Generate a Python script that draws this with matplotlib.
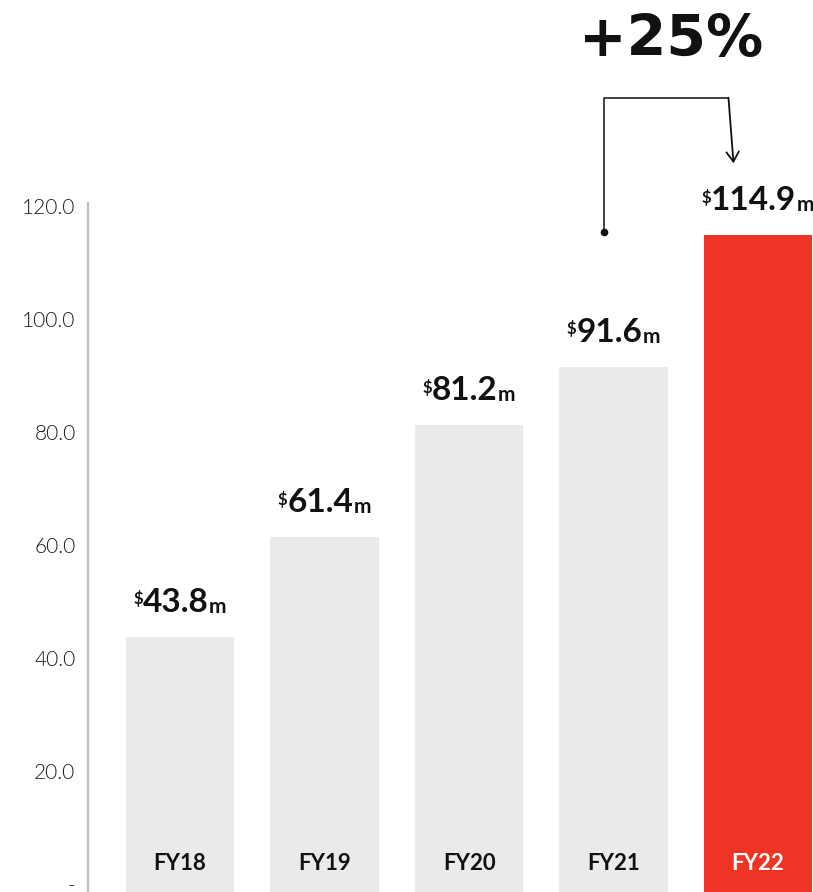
import matplotlib.pyplot as plt

# data
years = ["FY18", "FY19", "FY20", "FY21", "FY22"]
revenue = [43.8, 61.4, 81.2, 91.6, 114.9]
yticks = [0, 20, 40, 60, 80, 100, 120]
growth_label = "+25%"

grey = "#EAEAEA"
red = "#EE3424"
colors = [grey] * (len(years) - 1) + [red]

plt.rcParams["font.family"] = ["Lato", "DejaVu Sans"]

fig = plt.figure(figsize=(8.13, 8.92), dpi=100)
# axes spans full height, spine is cut at 120
ax = fig.add_axes([88 / 813, 0, 1 - 88 / 813, 1])

y_lo = -1.42  # bars run off the bottom edge like in the original
x = list(range(len(years)))
bars = ax.bar(x, [v - y_lo for v in revenue], bottom=y_lo, width=0.75,
              color=colors, zorder=2)

ax.set_xlim(-0.637, 4.38)
ax.set_ylim(y_lo, 156.5)

for s in ["top", "right", "bottom"]:
    ax.spines[s].set_visible(False)
ax.spines["left"].set_color("#BDBDBD")
ax.spines["left"].set_linewidth(1.6)
ax.spines["left"].set_bounds(y_lo, 120.5)

ax.set_xticks([])
ax.set_yticks(yticks)
ax.set_yticklabels(["-" if v == 0 else f"{v:.1f}" for v in yticks],
                   fontsize=15, fontweight=300, color="#1a1a1a")
ax.tick_params(axis="y", length=0, pad=9)

# value labels: $ superscript, number, small m
ink = "#111111"
for xi, v in zip(x, revenue):
    t = ax.annotate(f"{v:.1f}", (xi, v), xytext=(-3, 18), textcoords="offset points",
                    ha="center", va="baseline", fontsize=24, fontweight="bold", color=ink)
    ax.annotate("$", (0, 1), xycoords=t, xytext=(0, -2), textcoords="offset points",
                ha="right", va="top", fontsize=12, fontweight="bold", color=ink)
    ax.annotate("m", (1, 0), xycoords=t, xytext=(0, 0), textcoords="offset points",
                ha="left", va="bottom", fontsize=15, fontweight="bold", color=ink)

# category labels inside the bars
for xi, name, c in zip(x, years, colors):
    ax.annotate(name, (xi, 0), xytext=(0, 10), textcoords="offset points",
                ha="center", va="baseline", fontsize=16, fontweight="bold",
                color="white" if c == red else ink)

# growth bracket from FY21 to FY22
x0 = x[3] - 0.063
x1 = x[4] - 0.205
x_tip = x[4] - 0.17
y_dot = 115.5
y_top = 139.2
ax.plot([x0, x0, x1], [y_dot, y_top, y_top], color="#333333", lw=1.3,
        clip_on=False, zorder=3)
ax.plot([x0], [y_dot], marker="o", ms=4.5, color=ink, clip_on=False, zorder=3)
ax.annotate("", xy=(x_tip, 127.6), xytext=(x1, y_top),
            arrowprops=dict(arrowstyle="->,head_length=0.7,head_width=0.45",
                            color=ink, lw=1.3, shrinkA=0, shrinkB=0),
            annotation_clip=False)

ax.text(x[3] + 0.4, 149.4, growth_label, ha="center", va="center",
        fontsize=41, fontweight="bold", family="DejaVu Sans", color=ink)

fig.savefig("out.png", dpi=100)
